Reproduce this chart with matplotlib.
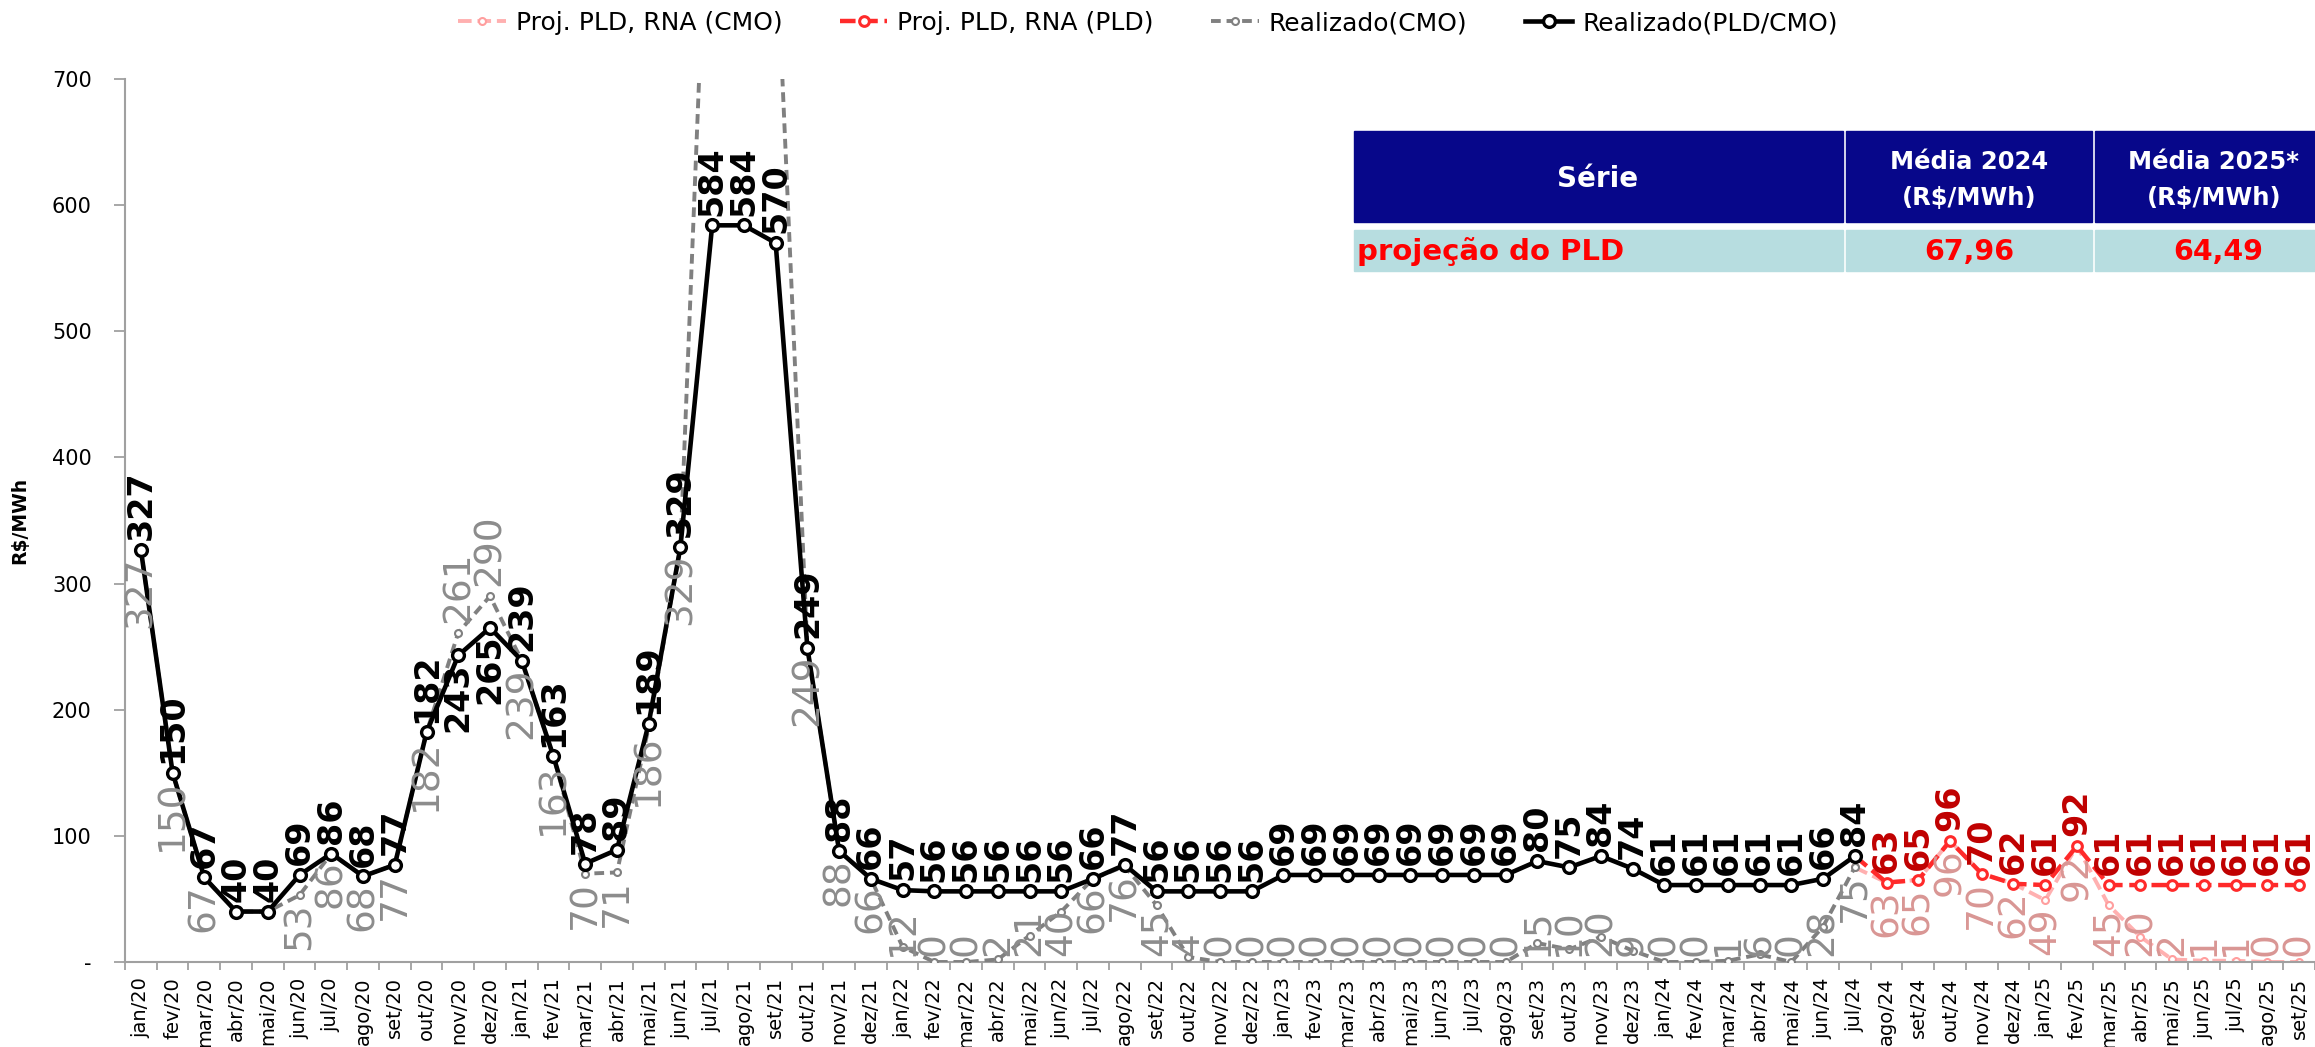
import matplotlib
matplotlib.use("Agg")
import matplotlib.pyplot as plt
from matplotlib.patches import Rectangle

# ---- dados ----
meses = ['jan', 'fev', 'mar', 'abr', 'mai', 'jun', 'jul', 'ago', 'set', 'out', 'nov', 'dez']
rotulos = [f"{m}/{a}" for a in range(20, 26) for m in meses][:69]

# Realizado (PLD/CMO): jan/20 .. jul/24
realizado_pld = [327, 150, 67, 40, 40, 69, 86, 68, 77, 182, 243, 265,
                 239, 163, 78, 89, 189, 329, 584, 584, 570, 249, 88, 66,
                 57, 56, 56, 56, 56, 56, 66, 77, 56, 56, 56, 56,
                 69, 69, 69, 69, 69, 69, 69, 69, 80, 75, 84, 74,
                 61, 61, 61, 61, 61, 66, 84]
# Realizado (CMO): jan/20 .. jul/24 (jul-set/21 fora da escala, estimados)
realizado_cmo = [327, 150, 67, 40, 40, 53, 86, 68, 77, 182, 261, 290,
                 239, 163, 70, 71, 186, 329, 960, 1000, 822, 249, 88, 66,
                 12, 0, 0, 2, 21, 40, 66, 76, 45, 4, 0, 0,
                 0, 0, 0, 0, 0, 0, 0, 0, 15, 10, 20, 9,
                 0, 0, 1, 6, 0, 28, 75]
# Projeções RNA: jul/24 .. set/25
proj_pld = [84, 63, 65, 96, 70, 62, 61, 92, 61, 61, 61, 61, 61, 61, 61]
proj_cmo = [75, 63, 65, 96, 70, 62, 49, 92, 45, 20, 2, 1, 1, 0, 0]

tabela_cab = ["Série", "Média 2024\n(R$/MWh)", "Média 2025*\n(R$/MWh)"]
tabela_lin = ["projeção do PLD", "67,96", "64,49"]

x_real = list(range(len(realizado_pld)))
x_proj = list(range(len(realizado_pld) - 1, len(realizado_pld) - 1 + len(proj_pld)))

W, H = 2315, 1047
fig = plt.figure(figsize=(W / 100, H / 100), dpi=100)
ax = fig.add_axes([125 / W, 1 - 962 / H, 1 - 125 / W, (962 - 79) / H])

# ---- séries ----
ax.plot(x_proj, proj_cmo, color='#FFB0B0', lw=2.8, dashes=(3.5, 1.5), marker='o', ms=5,
        mfc='white', mec='#FF9E9E', mew=1.5, zorder=2, label='Proj. PLD, RNA (CMO)')
ax.plot(x_proj, proj_pld, color='#FF2A2A', lw=3.2, dashes=(3.5, 1.5), marker='o', ms=7,
        mfc='white', mec='#FF2A2A', mew=2.2, zorder=3, label='Proj. PLD, RNA (PLD)')
ax.plot(x_real, realizado_cmo, color='#808080', lw=2.8, dashes=(2.5, 1.5), marker='o', ms=5,
        mfc='white', mec='#808080', mew=1.5, zorder=4, label='Realizado(CMO)')
ax.plot(x_real, realizado_pld, color='black', lw=3.3, marker='o', ms=8.5,
        mfc='white', mec='black', mew=2.4, zorder=5, label='Realizado(PLD/CMO)')

# ---- rótulos de dados ----
abaixo = []


def rotular(xs, vals, cor, peso, tam, pos, pular=(), inverter=()):
    for k, (xi, v) in enumerate(zip(xs, vals)):
        if k in pular or v > 700:
            continue
        p = pos
        if k in inverter:
            p = 'below' if pos == 'above' else 'above'
        if p == 'above':
            t = ax.annotate(f"{v:.0f}", (xi, v), xytext=(0, 7), textcoords='offset points',
                            rotation=90, ha='center', va='bottom', color=cor,
                            fontsize=tam, fontweight=peso, zorder=6)
        else:
            t = ax.annotate(f"{v:.0f}", (xi, v), xytext=(0, -5), textcoords='offset points',
                            rotation=90, ha='center', va='top', color=cor,
                            fontsize=tam, fontweight=peso, zorder=6)
            abaixo.append(t)


rotular(x_real, realizado_cmo, '#8C8C8C', 'normal', 27, 'below', pular=(3, 4), inverter=(10, 11))
rotular(x_real, realizado_pld, 'black', 'bold', 24, 'above', inverter=(10, 11))
rotular(x_proj, proj_cmo, '#D99694', 'normal', 27, 'below', pular=(0,))
rotular(x_proj, proj_pld, '#C00000', 'bold', 24, 'above', pular=(0,))

# ---- eixos ----
ax.set_ylim(0, 700)
ax.set_xlim(-0.5, len(rotulos) - 0.5)
ax.set_yticks(range(0, 701, 100))
ax.set_yticklabels(['-'] + [str(v) for v in range(100, 701, 100)], fontsize=15)
ax.set_xticks(range(len(rotulos)))
ax.set_xticklabels(rotulos, rotation=90, fontsize=14)
ax.set_xticks([i - 0.5 for i in range(len(rotulos) + 1)], minor=True)
ax.tick_params(axis='x', which='major', length=0, pad=11)
ax.tick_params(axis='x', which='minor', length=6, color='#A0A0A0', width=1.3)
ax.tick_params(axis='y', length=8, color='#A0A0A0', width=1.3, pad=16)
for s in ['top', 'right']:
    ax.spines[s].set_visible(False)
for s in ['left', 'bottom']:
    ax.spines[s].set_color('#A0A0A0')
    ax.spines[s].set_linewidth(1.5)

fig.text(20 / W, 1 - 520 / H, 'R$/MWh', rotation=90, ha='center', va='center',
         fontsize=13.5, fontweight='bold')

fig.legend(loc='center', bbox_to_anchor=(1148 / W, 1 - 23 / H), ncol=4, frameon=False,
           fontsize=18, handlelength=1.9, handletextpad=0.4, columnspacing=2.3)

# ---- tabela ----
cols = [(1354, 1843), (1846, 2092), (2095, 2315)]
for (x0, x1), txt in zip(cols, tabela_cab):
    fig.patches.append(Rectangle((x0 / W, 1 - 222 / H), (x1 - x0) / W, 91 / H,
                                 transform=fig.transFigure, color='#07078A', zorder=10))
for (x0, x1), txt in zip(cols, tabela_lin):
    fig.patches.append(Rectangle((x0 / W, 1 - 271 / H), (x1 - x0) / W, 41 / H,
                                 transform=fig.transFigure, color='#B7DDE0', zorder=10))
fig.text(1598 / W, 1 - 179 / H, tabela_cab[0], ha='center', va='center', color='white',
         fontsize=20, fontweight='bold', zorder=11)
fig.text(1969 / W, 1 - 180 / H, tabela_cab[1], ha='center', va='center', color='white',
         fontsize=17.5, fontweight='bold', linespacing=1.6, zorder=11)
fig.text(2214 / W, 1 - 180 / H, tabela_cab[2], ha='center', va='center', color='white',
         fontsize=17.5, fontweight='bold', linespacing=1.6, zorder=11)
fig.text(1357 / W, 1 - 252 / H, tabela_lin[0], ha='left', va='center', color='#FF0000',
         fontsize=21, fontweight='bold', zorder=11)
fig.text(1969 / W, 1 - 252 / H, tabela_lin[1], ha='center', va='center', color='#FF0000',
         fontsize=20.5, fontweight='bold', zorder=11)
fig.text(2218 / W, 1 - 252 / H, tabela_lin[2], ha='center', va='center', color='#FF0000',
         fontsize=20.5, fontweight='bold', zorder=11)

# rótulos abaixo do ponto não podem sair da área do gráfico
fig.canvas.draw()
r = fig.canvas.get_renderer()
base = ax.transData.transform((0, 0))[1] + 6
for t in abaixo:
    bb = t.get_window_extent(r)
    if bb.y0 < base:
        dx, dy = t.xyann
        t.xyann = (dx, dy + (base - bb.y0) * 72 / fig.dpi)

fig.savefig('out.png', dpi=100)
